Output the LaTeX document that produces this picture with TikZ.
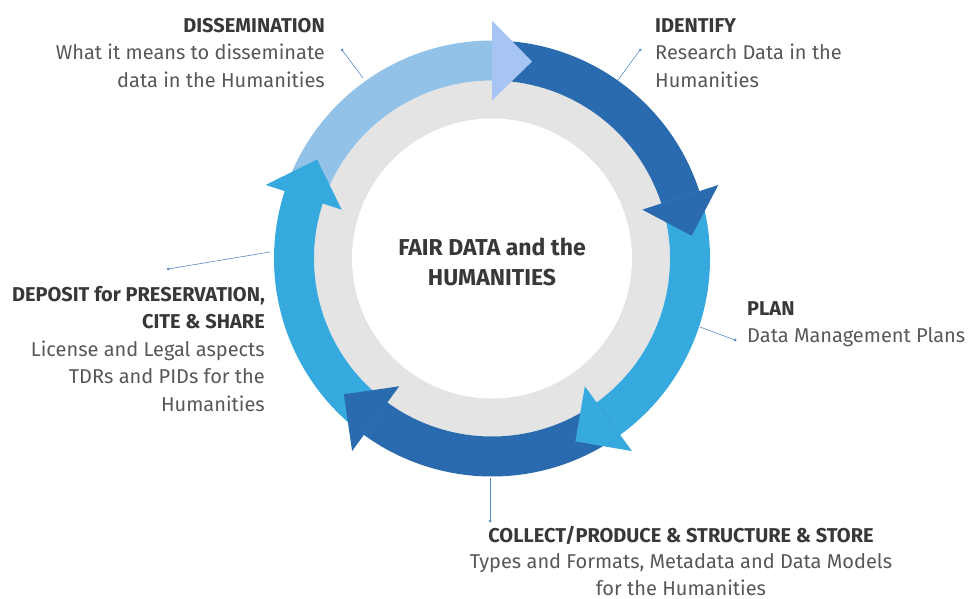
\documentclass[tikz,border=0pt]{standalone}
\usepackage{fontspec}
\setmainfont{Fira Sans}
\usetikzlibrary{calc}
\definecolor{fairdark}{HTML}{2A6AAE}
\definecolor{fairmid}{HTML}{36A9DF}
\definecolor{fairlight}{HTML}{93C2E8}
\definecolor{fairpale}{HTML}{A6C5F5}
\definecolor{fairgray}{HTML}{E4E4E4}
\definecolor{titlegray}{HTML}{383838}
\definecolor{bodygray}{HTML}{585858}
\definecolor{calloutblue}{HTML}{5A8CC4}
\newcommand{\cycletitle}[1]{\textbf{\color{titlegray}#1}}
\tikzset{
	labelstyle/.style={inner sep=0pt,text=bodygray,font=\fontsize{20}{27.5}\selectfont},
	centrestyle/.style={inner sep=0pt,text=titlegray,align=center,font=\fontsize{23}{30}\selectfont\bfseries},
	calloutstyle/.style={draw=calloutblue,line width=0.6pt},
	dotstyle/.style={circle,fill=calloutblue,inner sep=0pt,minimum size=3pt}
}
\begin{document}
\begin{tikzpicture}[x=1pt,y=1pt]
		\useasboundingbox (0,0) rectangle (968,598);
		\coordinate (c) at (492,339.5);
		% grey ring
		\fill[fairgray] (c) circle[radius=178];
		\fill[white] (c) circle[radius=140];
		\begin{scope}[shift={(c)}]
		% bands
		\fill[fairlight] (162:178) arc[start angle=162,end angle=89.5,radius=178] -- (89.5:218) arc[start angle=89.5,end angle=162,radius=218] -- cycle;
		\fill[fairdark] (90:178) arc[start angle=90,end angle=17.5,radius=178] -- (17.5:218) arc[start angle=17.5,end angle=90,radius=218] -- cycle;
		\fill[fairmid] (18:178) arc[start angle=18,end angle=-54.5,radius=178] -- (-54.5:218) arc[start angle=-54.5,end angle=18,radius=218] -- cycle;
		\fill[fairdark] (-54:178) arc[start angle=-54,end angle=-126.5,radius=178] -- (-126.5:218) arc[start angle=-126.5,end angle=-54,radius=218] -- cycle;
		\fill[fairmid] (-126:178) arc[start angle=-126,end angle=-198.5,radius=178] -- (-198.5:218) arc[start angle=-198.5,end angle=-126,radius=218] -- cycle;
		% heads
		\fill[fairpale] (90:158) -- (90:238) -- (78.5:201) -- cycle;
		\fill[fairdark] (18:158) -- (18:238) -- (6.5:201) -- cycle;
		\fill[fairmid] (-54:158) -- (-54:238) -- (-65.5:201) -- cycle;
		\fill[fairdark] (-126:158) -- (-126:238) -- (-137.5:201) -- cycle;
		\fill[fairmid] (162:158) -- (162:238) -- (150.5:201) -- cycle;
		\end{scope}
		\node[centrestyle] (fair) at (492,336) {FAIR DATA and the\\HUMANITIES};
		% labels
		\node[labelstyle,align=right,anchor=north east] (dissem) at (325,580) {\cycletitle{DISSEMINATION}\\What it means to disseminate\\data in the Humanities};
		\node[labelstyle,align=left,anchor=north west] (identify) at (655,580) {\cycletitle{IDENTIFY}\\Research Data in the\\Humanities};
		\node[labelstyle,align=left,anchor=north west] (plan) at (747,297) {\cycletitle{PLAN}\\Data Management Plans};
		\node[labelstyle,align=right,anchor=north east] (deposit) at (265,312) {\cycletitle{DEPOSIT for PRESERVATION,}\\\cycletitle{CITE \& SHARE}\\License and Legal aspects\\TDRs and PIDs for the\\Humanities};
		\node[labelstyle,align=center,anchor=north,font=\fontsize{20}{26.5}\selectfont] (collect) at (681,72.5) {\cycletitle{COLLECT/PRODUCE \& STRUCTURE \& STORE}\\Types and Formats, Metadata and Data Models\\for the Humanities};
		% callouts
		\node[dotstyle] (dissemdot) at (342,548) {};
		\node[dotstyle] (identifydot) at (640,548) {};
		\node[dotstyle] (plandot) at (735,258) {};
		\node[dotstyle] (depositdot) at (168,329) {};
		\node[dotstyle] (collectdot) at (490,77) {};
		\coordinate (dissemring) at (363,520);
		\coordinate (identifyring) at (618,518);
		\coordinate (planring) at (700,271);
		\coordinate (depositring) at (270,346);
		\coordinate (collectring) at (490,120);
		\draw[calloutstyle] (dissemdot.center) -- (dissemring);
		\draw[calloutstyle] (identifydot.center) -- (identifyring);
		\draw[calloutstyle] (plandot.center) -- (planring);
		\draw[calloutstyle] (depositdot.center) -- (depositring);
		\draw[calloutstyle] (collectdot.center) -- (collectring);
\end{tikzpicture}
\end{document}
